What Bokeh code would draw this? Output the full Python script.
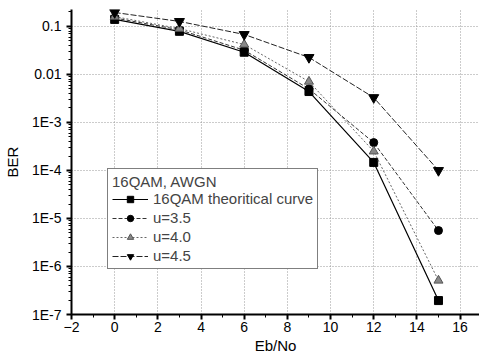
from bokeh.plotting import figure
from bokeh.models import FixedTicker, Legend, LegendItem, Range1d
from bokeh.embed import file_html
from bokeh.resources import INLINE

ebno = [0, 3, 6, 9, 12, 15]
theory = [0.14, 0.079, 0.029, 0.0044, 1.47e-4, 1.95e-7]
u35 = [0.15, 0.085, 0.032, 0.005, 3.8e-4, 5.6e-6]
u40 = [0.16, 0.09, 0.042, 0.0071, 2.5e-4, 5.1e-7]
u45 = [0.195, 0.127, 0.068, 0.0226, 0.0033, 1.0e-4]

x_ticks = [-2, 0, 2, 4, 6, 8, 10, 12, 14, 16]
y_ticks = [1e-7, 1e-6, 1e-5, 1e-4, 1e-3, 0.01, 0.1]
y_labels = ["1E-7", "1E-6", "1E-5", "1E-4", "1E-3", "0.01", "0.1"]

FONT = "Liberation Sans"

p = figure(frame_width=408, frame_height=305, y_axis_type="log",
           x_range=Range1d(-2, 16.9), y_range=Range1d(1e-7, 0.225),
           output_backend="svg", toolbar_location=None,
           min_border_left=56, min_border_right=0, min_border_top=9, min_border_bottom=0)
p.outline_line_color = None
p.background_fill_color = "white"

p.xaxis.ticker = FixedTicker(ticks=x_ticks, minor_ticks=list(range(-2, 18)))
p.yaxis.ticker = FixedTicker(ticks=y_ticks,
                             minor_ticks=[m * 10.0 ** e for e in range(-7, 0) for m in range(2, 10)])
p.yaxis.major_label_overrides = {t: l for t, l in zip(y_ticks, y_labels)}

for ax in (p.xaxis, p.yaxis):
    ax.axis_line_width = 2
    ax.axis_line_color = "black"
    ax.major_tick_line_width = 2
    ax.major_tick_line_color = "black"
    ax.minor_tick_line_color = "black"
    ax.minor_tick_line_width = 1
    ax.major_tick_out = 5
    ax.major_tick_in = 0
    ax.minor_tick_out = 3
    ax.minor_tick_in = 0
    ax.major_label_text_font = FONT
    ax.major_label_text_font_size = "14px"
    ax.major_label_text_color = "black"
    ax.axis_label_text_font = FONT
    ax.axis_label_text_font_size = "15px"
    ax.axis_label_text_font_style = "normal"
    ax.axis_label_text_color = "black"

p.xaxis.axis_label = "Eb/No"
p.yaxis.axis_label = "BER"
p.xaxis.major_label_standoff = 2
p.xaxis.axis_label_standoff = 2
p.yaxis.axis_label_standoff = 8

for g in (p.xgrid, p.ygrid):
    g.grid_line_color = "#999999"
    g.grid_line_dash = "1 2"
    g.grid_line_width = 1

r1l = p.line(ebno, theory, line_color="black", line_width=1.2)
r1m = p.scatter(ebno, theory, marker="square", size=8, fill_color="black", line_color="black")
r2l = p.line(ebno, u35, line_color="#333333", line_width=1, line_dash="4 2")
r2m = p.scatter(ebno, u35, marker="circle", size=8, fill_color="black", line_color="black")
r3l = p.line(ebno, u40, line_color="#666666", line_width=1, line_dash="2 2")
r3m = p.scatter(ebno, u40, marker="triangle", size=9, fill_color="#888888", line_color="#555555")
r4l = p.line(ebno, u45, line_color="#222222", line_width=1, line_dash="6 2")
r4m = p.scatter(ebno, u45, marker="inverted_triangle", size=10, fill_color="black", line_color="black")

legend = Legend(items=[
    LegendItem(label="16QAM theoritical curve", renderers=[r1l, r1m]),
    LegendItem(label="u=3.5", renderers=[r2l, r2m]),
    LegendItem(label="u=4.0", renderers=[r3l, r3m]),
    LegendItem(label="u=4.5", renderers=[r4l, r4m]),
], location=(36, 45))
legend.title = "16QAM, AWGN"
legend.title_text_font = FONT
legend.title_text_font_size = "15px"
legend.title_text_font_style = "normal"
legend.title_standoff = 0
legend.label_text_font = FONT
legend.label_text_font_size = "15px"
legend.label_height = 16
legend.glyph_height = 16
legend.glyph_width = 36
legend.label_standoff = 5
legend.spacing = 2
legend.padding = 4
legend.margin = 0
legend.border_line_color = "black"
legend.border_line_width = 1
legend.background_fill_alpha = 1
p.add_layout(legend, "center")

open("out.html", "w").write(file_html(p, INLINE))
